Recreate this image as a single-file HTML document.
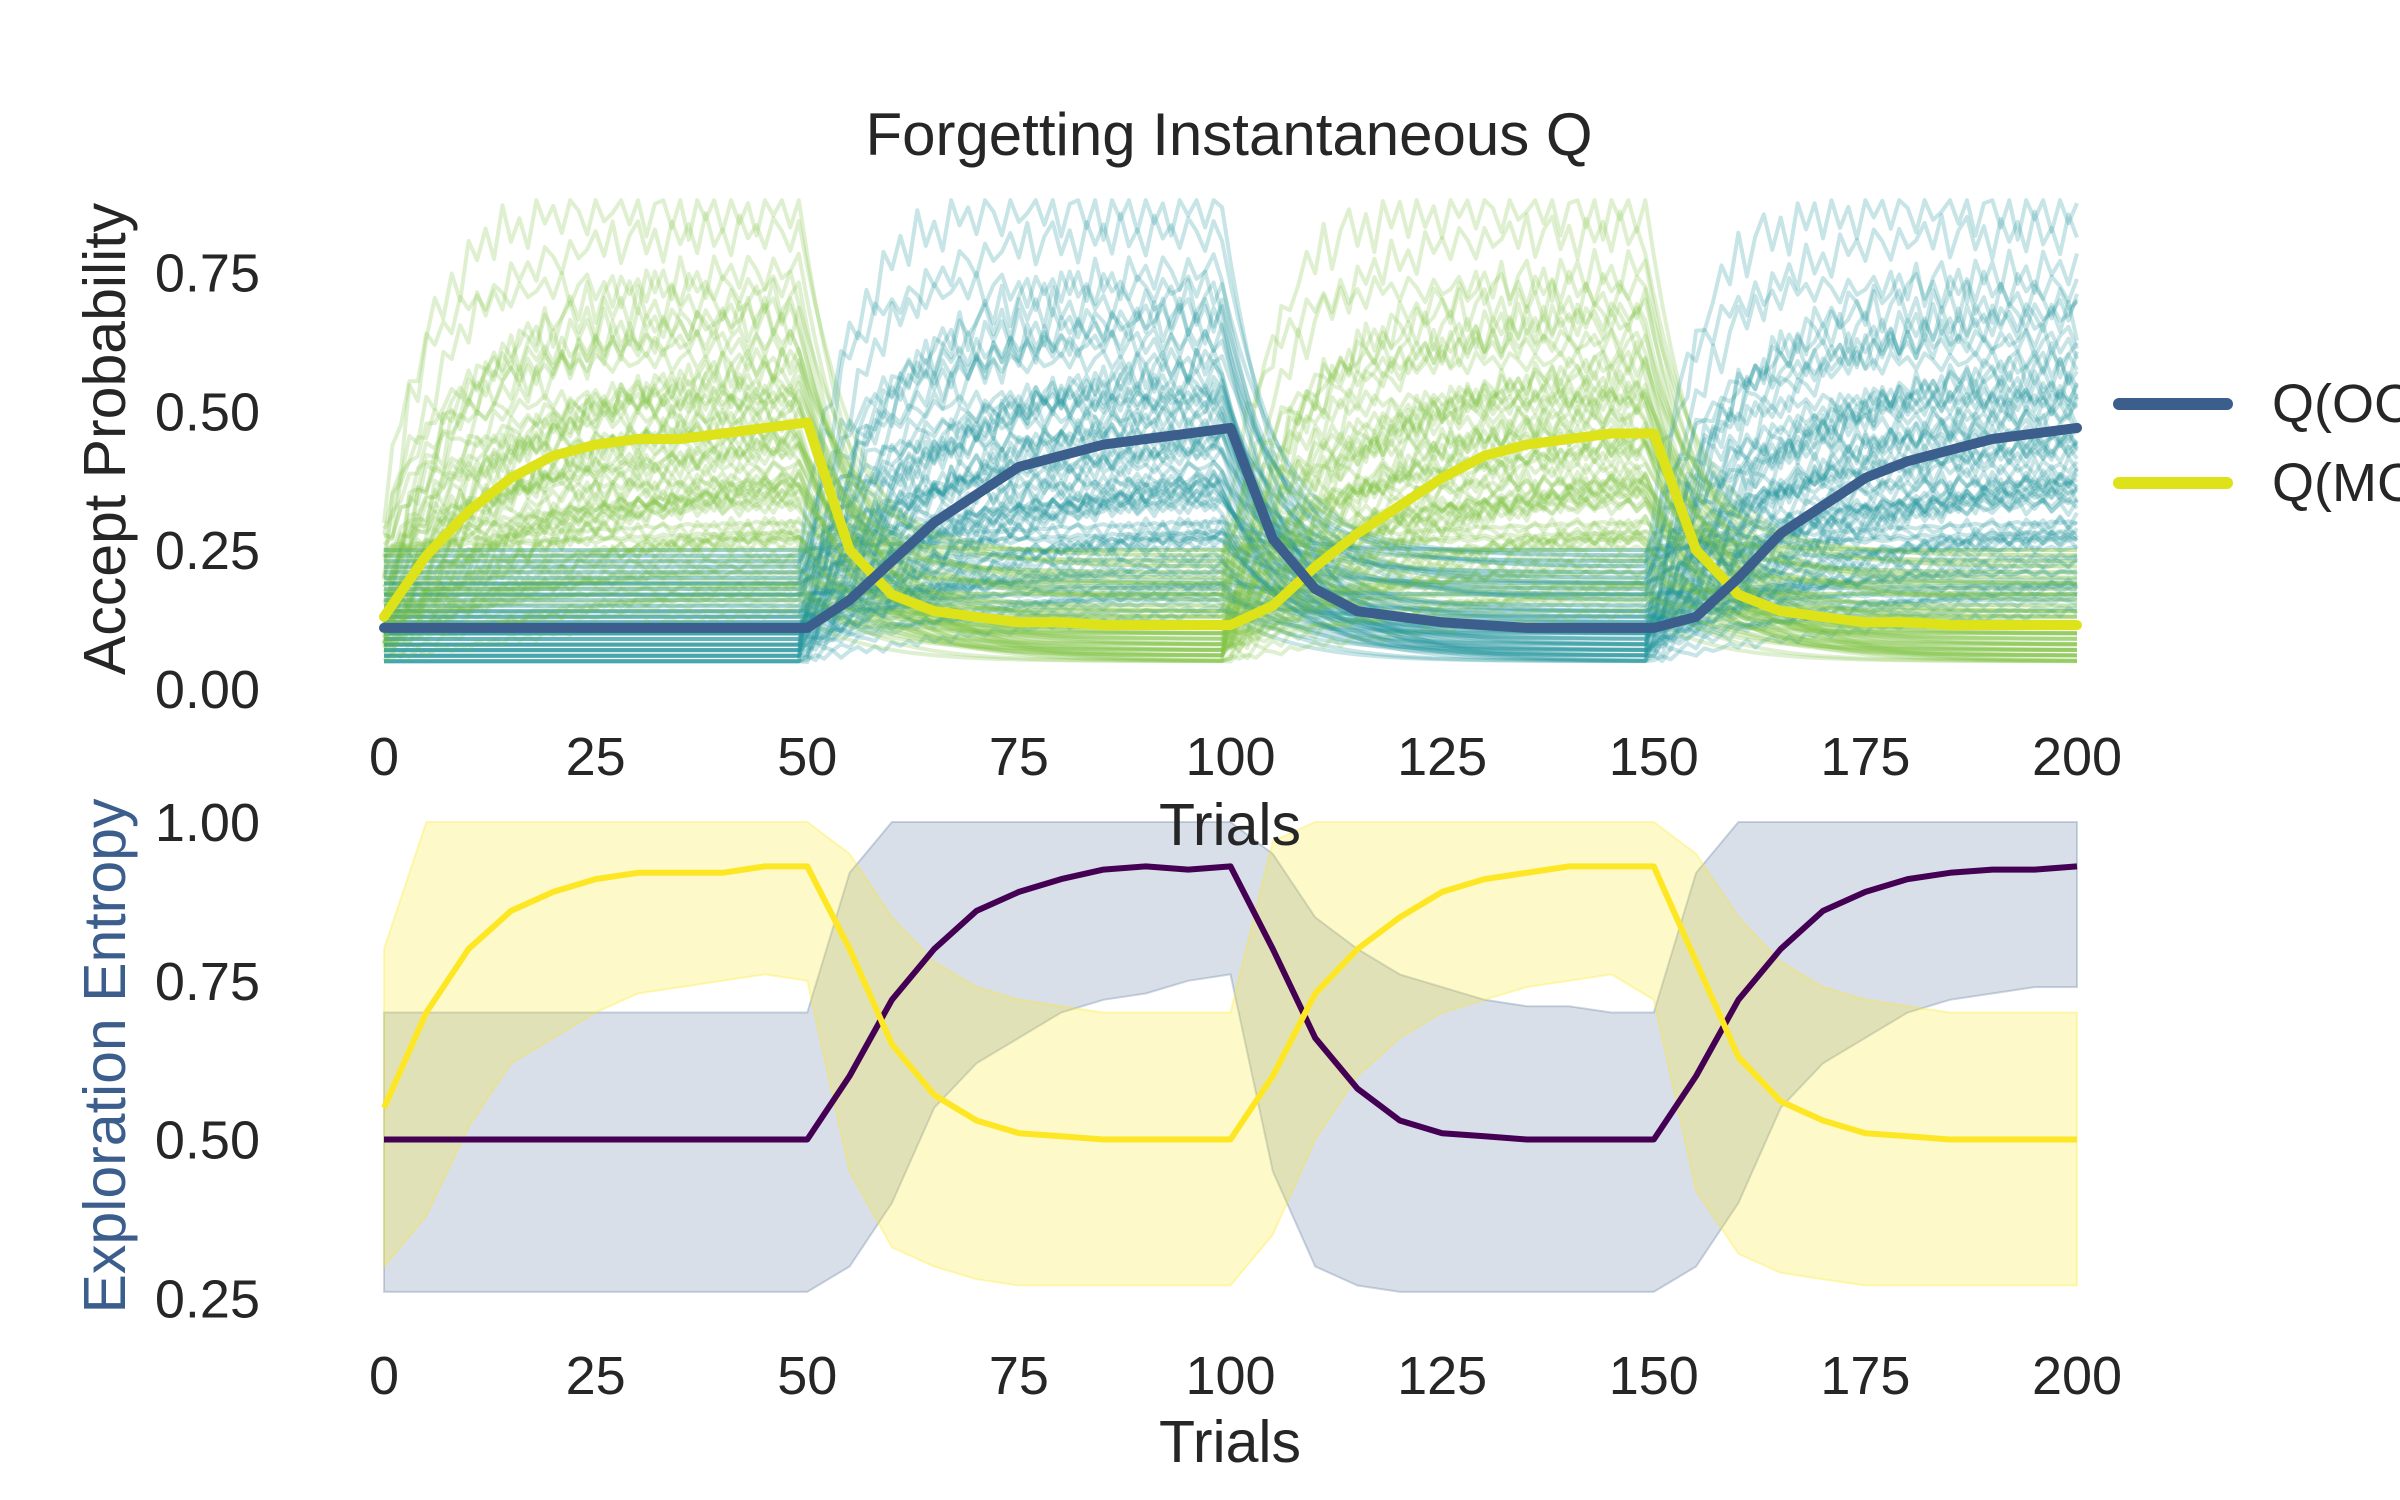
<!DOCTYPE html>
<html><head><meta charset="utf-8"><style>
html,body{margin:0;padding:0;background:#fff;}
svg{display:block;font-family:"Liberation Sans",sans-serif;}
</style></head><body>
<svg id="chart" width="2400" height="1500" viewBox="0 0 2400 1500" xmlns="http://www.w3.org/2000/svg">
<rect width="2400" height="1500" fill="#fff"/>
<text x="1229" y="155" font-size="60" text-anchor="middle" fill="#262626">Forgetting Instantaneous Q</text>
<g id="topPanel"></g>
<g id="botPanel"></g>
<text transform="translate(125,439) rotate(-90)" font-size="59" text-anchor="middle" fill="#262626">Accept Probability</text>
<text transform="translate(125,1056) rotate(-90)" font-size="59" text-anchor="middle" fill="#3b5e8c">Exploration Entropy</text>
<text x="1230" y="845" font-size="59" text-anchor="middle" fill="#262626">Trials</text>
<text x="1230" y="1462" font-size="59" text-anchor="middle" fill="#262626">Trials</text>
<g>
<line x1="2119" y1="404" x2="2227" y2="404" stroke="#3b5e8c" stroke-width="12" stroke-linecap="round"/>
<text x="2272" y="422" font-size="54" fill="#262626">Q(OC)</text>
<line x1="2119" y1="483" x2="2227" y2="483" stroke="#dde318" stroke-width="12" stroke-linecap="round"/>
<text x="2272" y="501" font-size="54" fill="#262626">Q(MC)</text>
</g>
</svg>
<script>
const trials = [0,5,10,15,20,25,30,35,40,45,50,55,60,65,70,75,80,85,90,95,100,105,110,115,120,125,130,135,140,145,150,155,160,165,170,175,180,185,190,195,200];
const meanMC = [0.13,0.24,0.32,0.38,0.42,0.44,0.45,0.45,0.46,0.47,0.48,0.25,0.17,0.14,0.13,0.12,0.12,0.115,0.115,0.115,0.115,0.15,0.22,0.28,0.33,0.38,0.42,0.44,0.45,0.46,0.46,0.25,0.17,0.14,0.13,0.12,0.12,0.115,0.115,0.115,0.115];
const meanOC = [0.11,0.11,0.11,0.11,0.11,0.11,0.11,0.11,0.11,0.11,0.11,0.16,0.23,0.30,0.35,0.40,0.42,0.44,0.45,0.46,0.47,0.27,0.18,0.14,0.13,0.12,0.115,0.11,0.11,0.11,0.11,0.13,0.20,0.28,0.33,0.38,0.41,0.43,0.45,0.46,0.47];
const entMC = [0.55,0.70,0.80,0.86,0.89,0.91,0.92,0.92,0.92,0.93,0.93,0.80,0.65,0.57,0.53,0.51,0.505,0.50,0.50,0.50,0.50,0.60,0.73,0.80,0.85,0.89,0.91,0.92,0.93,0.93,0.93,0.78,0.63,0.56,0.53,0.51,0.505,0.50,0.50,0.50,0.50];
const entOC = [0.5,0.5,0.5,0.5,0.5,0.5,0.5,0.5,0.5,0.5,0.5,0.60,0.72,0.80,0.86,0.89,0.91,0.925,0.93,0.925,0.93,0.80,0.66,0.58,0.53,0.51,0.505,0.5,0.5,0.5,0.5,0.60,0.72,0.80,0.86,0.89,0.91,0.92,0.925,0.925,0.93];
const bandMCHi = [0.80,1.0,1.0,1.0,1.0,1.0,1.0,1.0,1.0,1.0,1.0,0.95,0.85,0.78,0.74,0.72,0.71,0.70,0.70,0.70,0.70,0.97,1.0,1.0,1.0,1.0,1.0,1.0,1.0,1.0,1.0,0.95,0.85,0.78,0.74,0.72,0.71,0.70,0.70,0.70,0.70];
const bandMCLo = [0.30,0.38,0.52,0.62,0.66,0.70,0.73,0.74,0.75,0.76,0.75,0.45,0.33,0.30,0.28,0.27,0.27,0.27,0.27,0.27,0.27,0.35,0.50,0.60,0.66,0.70,0.72,0.74,0.75,0.76,0.72,0.42,0.32,0.29,0.28,0.27,0.27,0.27,0.27,0.27,0.27];
const bandOCHi = [0.70,0.70,0.70,0.70,0.70,0.70,0.70,0.70,0.70,0.70,0.70,0.92,1.0,1.0,1.0,1.0,1.0,1.0,1.0,1.0,1.0,0.95,0.85,0.80,0.76,0.74,0.72,0.71,0.71,0.70,0.70,0.92,1.0,1.0,1.0,1.0,1.0,1.0,1.0,1.0,1.0];
const bandOCLo = [0.26,0.26,0.26,0.26,0.26,0.26,0.26,0.26,0.26,0.26,0.26,0.30,0.40,0.55,0.62,0.66,0.70,0.72,0.73,0.75,0.76,0.45,0.30,0.27,0.26,0.26,0.26,0.26,0.26,0.26,0.26,0.30,0.40,0.55,0.62,0.66,0.70,0.72,0.73,0.74,0.74];
const subjPeak = [0.86,0.82,0.76,0.72,0.69,0.66,0.63,0.61,0.59,0.57,0.55,0.54,0.52,0.51,0.49,0.48,0.46,0.45,0.43,0.42,0.40,0.39,0.37,0.36,0.34,0.33,0.31,0.30,0.28,0.27,0.25,0.24,0.22,0.21,0.20,0.19,0.18,0.17];
const subjBase = [0.05,0.16,0.08,0.22,0.12,0.06,0.19,0.10,0.24,0.07,0.14,0.09,0.20,0.05,0.17,0.11,0.23,0.08,0.13,0.06,0.18,0.10,0.21,0.07,0.15,0.09,0.25,0.06,0.12,0.19,0.08,0.14,0.05,0.11,0.17,0.07,0.10,0.13];
const subjTau = [5,8,11,4,14,7,9,17,6,12,10,20,5,15,8,13,22,6,11,18,9,25,7,14,16,10,28,12,19,8,24,15,30,11,21,13,26,9];
const jitter = [0,0.05,-0.03,0.07,-0.06,0.02,0.06,-0.04,0.03,-0.07,0.05,-0.02,0.04,-0.05,0.07,-0.03,0.02,-0.06,0.06,-0.01,0.03,-0.04,0.05,0.01,-0.05,0.04,-0.02];

const NS='http://www.w3.org/2000/svg';
const X0=384,X1=2077;
const xs=t=>X0+(t/200)*(X1-X0);
const ysTop=v=>689-v*555.5;
const ysBot=v=>822-(v-1)*635;
const gTop=document.getElementById('topPanel'), gBot=document.getElementById('botPanel');
function mk(tag,attrs,parent){const e=document.createElementNS(NS,tag);for(const k in attrs)e.setAttribute(k,attrs[k]);parent.appendChild(e);return e;}
function pathFrom(arr,ys){return arr.map((v,i)=>(i?'L':'M')+xs(trials[i]).toFixed(1)+' '+ys(v).toFixed(1)).join(' ');}

function trace(s,offset,phase,scale,tauMul){
  const pk=subjBase[s]+(subjPeak[s]-subjBase[s])*scale,b=subjBase[s],tau=subjTau[s]*tauMul;
  const pts=[];let v=b;
  for(let t=0;t<=200;t++){
    const blk=Math.floor(Math.min(t,199)/50);
    const active=((blk+offset)%2)===0;
    const t0=blk*50;
    if(active){
      const target=b+(pk-b)*(1-Math.exp(-(t-t0+1)/tau));
      v=target+jitter[(t+s*3+phase)%jitter.length]*(pk-b)*0.9;
    } else {
      v=b+(v-b)*0.88;
    }
    v=Math.max(0.03,Math.min(0.88,v));
    pts.push((t?'L':'M')+xs(t).toFixed(1)+' '+ysTop(v).toFixed(1));
  }
  return pts.join(' ');
}
const gSp=mk('g',{},gTop);


const N=subjPeak.length;
for(let rep=0;rep<2;rep++){
  for(let s=0;s<N;s++){
    const sc=rep?0.8:1, ph=rep?11:0, tm=rep?1.6:1;
    const p1=mk('path',{d:trace((s+rep*13)%N,0,ph,sc,tm),fill:'none',stroke:'#7ec242','stroke-opacity':0.25,'stroke-width':4,'stroke-linejoin':'round'},gSp);
    
    
    const p2=mk('path',{d:trace((s+7+rep*19)%N,1,ph+5,sc,tm),fill:'none',stroke:'#1f949a','stroke-opacity':0.25,'stroke-width':4,'stroke-linejoin':'round'},gSp);
    
    
  }
}
const mMC=mk('path',{d:pathFrom(meanMC,ysTop),fill:'none',stroke:'#dde318','stroke-width':10,'stroke-linecap':'round','stroke-linejoin':'round'},gTop);


const mOC=mk('path',{d:pathFrom(meanOC,ysTop),fill:'none',stroke:'#3b5e8c','stroke-width':10,'stroke-linecap':'round','stroke-linejoin':'round'},gTop);



function band(hi,lo){let d=pathFrom(hi,ysBot);for(let i=lo.length-1;i>=0;i--)d+=' L'+xs(trials[i]).toFixed(1)+' '+ysBot(lo[i]).toFixed(1);return d+' Z';}
const bO=mk('path',{d:band(bandOCHi,bandOCLo),fill:'#3b5e8c','fill-opacity':0.2,stroke:'#3b5e8c','stroke-opacity':0.25,'stroke-width':2},gBot);


const bM=mk('path',{d:band(bandMCHi,bandMCLo),fill:'#fde725','fill-opacity':0.25,stroke:'#fde725','stroke-opacity':0.3,'stroke-width':2},gBot);


const eO=mk('path',{d:pathFrom(entOC,ysBot),fill:'none',stroke:'#440154','stroke-width':6,'stroke-linejoin':'round'},gBot);


const eM=mk('path',{d:pathFrom(entMC,ysBot),fill:'none',stroke:'#fde725','stroke-width':6,'stroke-linejoin':'round'},gBot);



const xTicks=[0,25,50,75,100,125,150,175,200];
const topYTicks=['0.00','0.25','0.50','0.75'];
const botYTicks=['0.25','0.50','0.75','1.00'];
xTicks.forEach(t=>{
  const a=mk('text',{x:xs(t),y:775,'font-size':54,'text-anchor':'middle',fill:'#262626'},gTop);a.textContent=t;
  
  
  const b=mk('text',{x:xs(t),y:1394,'font-size':54,'text-anchor':'middle',fill:'#262626'},gBot);b.textContent=t;
  
  
});
topYTicks.forEach(l=>{
  const a=mk('text',{x:260,y:ysTop(+l)+19,'font-size':54,'text-anchor':'end',fill:'#262626'},gTop);a.textContent=l;
  
  
});
botYTicks.forEach(l=>{
  const a=mk('text',{x:260,y:ysBot(+l)+19,'font-size':54,'text-anchor':'end',fill:'#262626'},gBot);a.textContent=l;
  
  
});
</script>
</body></html>
